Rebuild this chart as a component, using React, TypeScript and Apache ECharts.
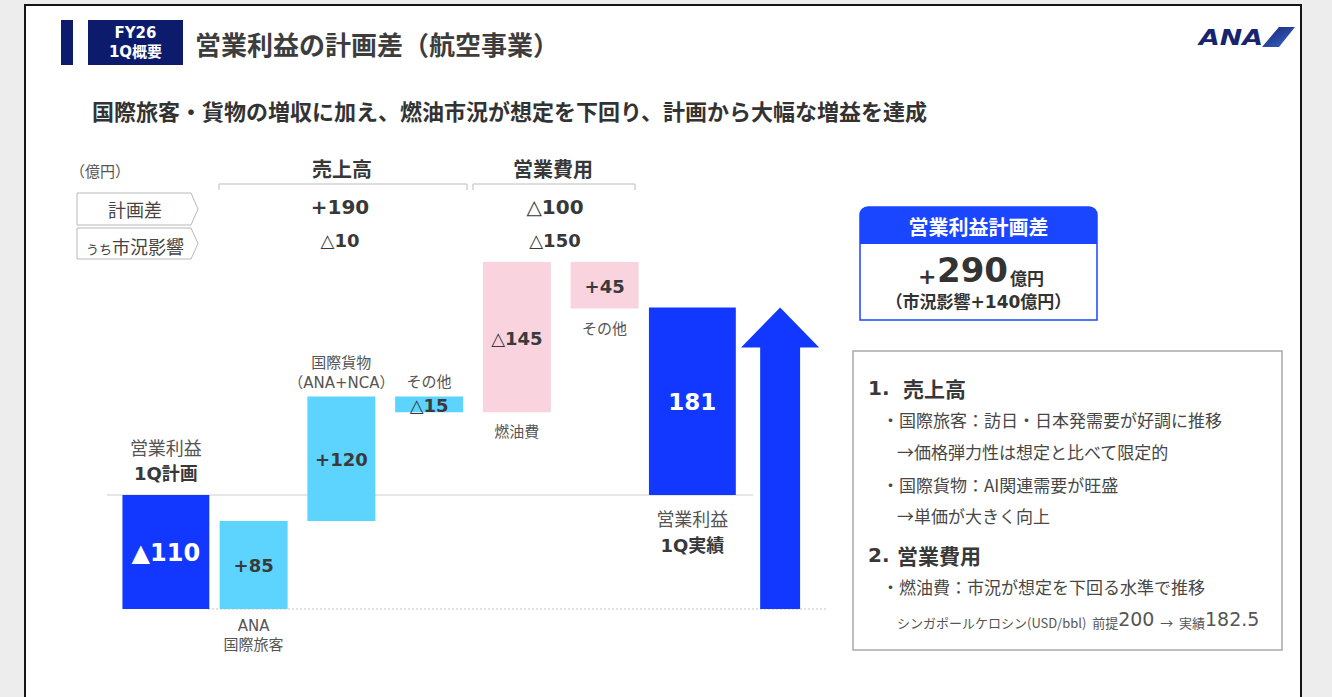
import React, { useEffect, useRef } from 'react';
import * as echarts from 'echarts';

// ---------------- data ----------------
const stepNames = ['営業利益\n1Q計画', 'ANA\n国際旅客', '国際貨物\n（ANA+NCA）', 'その他', '燃油費', 'その他', '営業利益\n1Q実績', ''];
const planProfit = -110; // 営業利益 1Q計画
const revenueDiffs = [85, 120, -15]; // 国際旅客, 国際貨物, その他
const costDiffs = [-145, 45]; // 燃油費, その他 (費用の計画差)
const actualProfit = 181; // 営業利益 1Q実績
const summaryRowNames = ['計画差', 'うち市況影響'];
const marketImpactRevenue = -10;
const marketImpactCost = -150;
const profitDiffTotal = 290;
const profitDiffMarket = 140;
const fuelPlan = 200;
const fuelActual = 182.5;
const axisMax = 250;

// ---------------- styles ----------------
const NAVY = '#0c1b6c';
const DARK = '#1238ff';
const LIGHT = '#5cd4fe';
const PINK = '#f9d4de';
const BOXBLUE = '#1a46ff';
const FJ = '"Noto Sans CJK JP", sans-serif';
const FN = '"DejaVu Sans", "Noto Sans CJK JP", sans-serif';

const fmt = (v: number) => (v >= 0 ? '+' + v : '△' + Math.abs(v));

type Item = { low: number; high: number; label: string; kind: 'total' | 'rev' | 'cost' | 'arrow' };
const items: Item[] = [];
(() => {
  let run = planProfit;
  items.push({ low: 0, high: planProfit, label: '▲' + Math.abs(planProfit), kind: 'total' });
  revenueDiffs.forEach((v) => {
    items.push({ low: run, high: run + v, label: fmt(v), kind: 'rev' });
    run += v;
  });
  costDiffs.forEach((v) => {
    items.push({ low: run, high: run - v, label: fmt(v), kind: 'cost' });
    run -= v;
  });
  items.push({ low: 0, high: actualProfit, label: String(actualProfit), kind: 'total' });
  items.push({ low: planProfit, high: actualProfit, label: '', kind: 'arrow' });
})();

const revenueSum = revenueDiffs.reduce((a, b) => a + b, 0);
const costSum = costDiffs.reduce((a, b) => a + b, 0);

// label layout per bar (presentation only)
const nameLayout: any[] = [
  { side: 'above', gap: 22, lh: 26, big: true },
  { side: 'below', gap: 17, lh: 19 },
  { side: 'above', gap: 14, lh: 20 },
  { side: 'above', gap: 15, lh: 20 },
  { side: 'below', gap: 20, lh: 20 },
  { side: 'below', gap: 20, lh: 20 },
  { side: 'below', gap: 23, lh: 27, big: true },
  null,
];

const T = (text: string, x: number, y: number, font: string, fill: string, align = 'left', va = 'middle', extra: any = {}) => ({
  type: 'text',
  style: { text, x, y, font, fill, align, verticalAlign: va, textAlign: align, textVerticalAlign: va, ...extra },
});

function renderItem(params: any, api: any) {
  const i = params.dataIndex;
  const it = items[i];
  const lowP = api.coord([i, it.low]);
  const highP = api.coord([i, it.high]);
  const band = api.size([1, 0])[0];
  const cx = lowP[0];
  const children: any[] = [];
  if (it.kind === 'arrow') {
    const headW = band * 0.89;
    const shaftW = band * 0.455;
    const headH = 40;
    const top = highP[1];
    const bottom = lowP[1];
    children.push({
      type: 'polygon',
      shape: {
        points: [
          [cx - shaftW / 2, bottom],
          [cx - shaftW / 2, top + headH],
          [cx - headW / 2, top + headH],
          [cx, top],
          [cx + headW / 2, top + headH],
          [cx + shaftW / 2, top + headH],
          [cx + shaftW / 2, bottom],
        ],
      },
      style: { fill: DARK },
    });
    return { type: 'group', children };
  }
  const w = band * (it.kind === 'total' ? 0.99 : 0.775);
  const y1 = Math.min(lowP[1], highP[1]);
  const y2 = Math.max(lowP[1], highP[1]);
  const fill = it.kind === 'total' ? DARK : it.kind === 'rev' ? LIGHT : PINK;
  children.push({ type: 'rect', shape: { x: cx - w / 2, y: y1, width: w, height: y2 - y1 }, style: { fill } });
  const isTotal = it.kind === 'total';
  const vFont = isTotal ? (i === 0 ? `bold 24px ${FN}` : `bold 23px ${FN}`) : `bold 18px ${FN}`;
  children.push(T(it.label, cx, (y1 + y2) / 2 + 1, vFont, isTotal ? '#ffffff' : '#3a3a3a', 'center'));
  const lay = nameLayout[i];
  const lines = stepNames[i].split('\n');
  if (lay) {
    const n = lines.length;
    lines.forEach((ln, k) => {
      let y: number;
      if (lay.side === 'above') y = y1 - lay.gap - (n - 1 - k) * lay.lh;
      else y = y2 + lay.gap + k * lay.lh;
      let font = `15px ${FN}`;
      let col = '#555555';
      if (lay.big) {
        font = k === 0 ? `18px ${FJ}` : `bold 18px ${FN}`;
        col = k === 0 ? '#555555' : '#383838';
      }
      children.push(T(ln, cx, y, font, col, 'center'));
    });
  }
  return { type: 'group', children };
}

function buildGraphics(y0: number, yb: number) {
  const g: any[] = [];
  // slide frame
  g.push({ type: 'rect', shape: { x: 25, y: 5, width: 1276, height: 740 }, style: { fill: '#ffffff', stroke: '#151515', lineWidth: 2 } });
  // header
  g.push({ type: 'rect', shape: { x: 61, y: 20, width: 12, height: 45 }, style: { fill: NAVY } });
  g.push({ type: 'rect', shape: { x: 88, y: 20, width: 95, height: 45 }, style: { fill: NAVY } });
  g.push(T('FY26', 135.5, 33, `bold 15px ${FN}`, '#ffffff', 'center'));
  g.push(T('1Q概要', 135.5, 52, `bold 15px ${FN}`, '#ffffff', 'center'));
  g.push(T('営業利益の計画差（航空事業）', 195, 43, `bold 26px ${FJ}`, '#3d3d3d'));
  // ANA logo
  g.push({
    type: 'text',
    x: 1199,
    y: 37,
    scaleX: 1.22,
    style: { text: 'ANA', x: 0, y: 0, font: `italic bold 22px "DejaVu Sans"`, fill: '#16256e', align: 'left', verticalAlign: 'middle', textAlign: 'left', textVerticalAlign: 'middle' },
  });
  g.push({
    type: 'polygon',
    shape: { points: [[1262, 47], [1279, 27], [1295, 27], [1279, 47]] },
    style: {
      fill: new echarts.graphic.LinearGradient(0, 0, 1, 1, [
        { offset: 0, color: '#16256e' },
        { offset: 1, color: '#3a66d0' },
      ]),
    },
  });
  // subtitle
  g.push(T('国際旅客・貨物の増収に加え、燃油市況が想定を下回り、計画から大幅な増益を達成', 92, 110, `bold 22px ${FJ}`, '#333333'));
  // unit + row labels
  g.push(T('（億円）', 70, 170, `15px ${FJ}`, '#555555'));
  g.push({ type: 'polygon', shape: { points: [[77, 193], [191, 193], [198, 209], [191, 225], [77, 225]] }, style: { fill: '#ffffff', stroke: '#b8b8b8', lineWidth: 1 } });
  g.push({ type: 'polygon', shape: { points: [[77, 228], [191, 228], [198, 243.5], [191, 259], [77, 259]] }, style: { fill: '#ffffff', stroke: '#b8b8b8', lineWidth: 1 } });
  g.push(T(summaryRowNames[0], 135, 209, `18px ${FJ}`, '#444444', 'center'));
  g.push({
    type: 'text',
    style: {
      text: '{a|うち}{b|市況影響}',
      x: 135,
      y: 244,
      align: 'center',
      verticalAlign: 'middle',
      textAlign: 'center',
      textVerticalAlign: 'middle',
      rich: {
        a: { font: `13px ${FJ}`, fill: '#444444', lineHeight: 18, verticalAlign: 'bottom' },
        b: { font: `18px ${FJ}`, fill: '#444444', lineHeight: 22, verticalAlign: 'bottom' },
      },
    },
  });
  // brackets
  g.push({ type: 'polyline', shape: { points: [[219, 190], [219, 184], [467, 184], [467, 190]] }, style: { stroke: '#bdbdbd', lineWidth: 1, fill: null } });
  g.push({ type: 'polyline', shape: { points: [[473, 190], [473, 184], [635, 184], [635, 190]] }, style: { stroke: '#bdbdbd', lineWidth: 1, fill: null } });
  g.push(T('売上高', 342, 168, `bold 20px ${FJ}`, '#383838', 'center'));
  g.push(T('営業費用', 553, 168, `bold 20px ${FJ}`, '#383838', 'center'));
  g.push(T(fmt(revenueSum), 340, 207, `bold 20px ${FN}`, '#383838', 'center'));
  g.push(T(fmt(costSum), 555, 207, `bold 20px ${FN}`, '#383838', 'center'));
  g.push(T(fmt(marketImpactRevenue), 340, 240, `bold 18px ${FN}`, '#383838', 'center'));
  g.push(T(fmt(marketImpactCost), 555, 240, `bold 18px ${FN}`, '#383838', 'center'));
  // chart reference lines
  g.push({ type: 'line', shape: { x1: 107, y1: y0, x2: 753, y2: y0 }, style: { stroke: '#cfcfcf', lineWidth: 1 } });
  g.push({ type: 'line', shape: { x1: 208, y1: yb, x2: 828, y2: yb }, style: { stroke: '#c4c4c4', lineWidth: 1, lineDash: [2, 2] } });
  // right summary box
  g.push({ type: 'rect', shape: { x: 860, y: 207, width: 237, height: 113, r: [8, 8, 0, 0] }, style: { fill: '#ffffff', stroke: BOXBLUE, lineWidth: 1.5 } });
  g.push({ type: 'rect', shape: { x: 860, y: 207, width: 237, height: 37, r: [8, 8, 0, 0] }, style: { fill: BOXBLUE } });
  g.push(T('営業利益計画差', 978.5, 226, `bold 20px ${FJ}`, '#ffffff', 'center'));
  g.push(T('+', 918, 276, `bold 22px ${FN}`, '#333333'));
  g.push(T(String(profitDiffTotal), 937, 270, `bold 34px ${FN}`, '#333333'));
  g.push(T('億円', 1010, 277, `bold 17px ${FJ}`, '#333333'));
  g.push(T(`（市況影響+${profitDiffMarket}億円）`, 978.5, 302, `bold 17px ${FN}`, '#333333', 'center'));
  // notes box
  g.push({ type: 'rect', shape: { x: 853, y: 351, width: 429, height: 299 }, style: { fill: '#ffffff', stroke: '#a9a9a9', lineWidth: 1.5 } });
  g.push(T('1.', 868, 388, `bold 20px ${FN}`, '#383838'));
  g.push(T('売上高', 903, 388, `bold 21px ${FJ}`, '#383838'));
  g.push(T('・国際旅客：訪日・日本発需要が好調に推移', 882, 419, `17px ${FJ}`, '#474747'));
  g.push(T('→価格弾力性は想定と比べて限定的', 897, 451, `17px ${FJ}`, '#474747'));
  g.push(T('・国際貨物：AI関連需要が旺盛', 882, 484, `17px ${FJ}`, '#474747'));
  g.push(T('→単価が大きく向上', 897, 515, `17px ${FJ}`, '#474747'));
  g.push(T('2.', 868, 555, `bold 20px ${FN}`, '#383838'));
  g.push(T('営業費用', 897, 555, `bold 21px ${FJ}`, '#383838'));
  g.push(T('・燃油費：市況が想定を下回る水準で推移', 882, 586, `17px ${FJ}`, '#474747'));
  g.push({
    type: 'text',
    style: {
      text: `{s|シンガポールケロシン(USD/bbl)  前提}{n|${fuelPlan}}{s|  →  実績}{n|${fuelActual}}`,
      x: 897,
      y: 617,
      align: 'left',
      verticalAlign: 'middle',
      textAlign: 'left',
      textVerticalAlign: 'middle',
      rich: {
        s: { font: `13px ${FJ}`, fill: '#555555', lineHeight: 16, verticalAlign: 'bottom' },
        n: { font: `19px "DejaVu Sans", sans-serif`, fill: '#555555', lineHeight: 23, verticalAlign: 'bottom' },
      },
    },
  });
  return g;
}

export default function App() {
  const ref = useRef<HTMLDivElement>(null);
  useEffect(() => {
    const chart = echarts.init(ref.current!, undefined, { renderer: 'svg' });
    chart.setOption({
      animation: false,
      backgroundColor: '#ededed',
      grid: { left: 122, top: 236, width: 702, height: 373 },
      xAxis: { type: 'category', data: stepNames, show: false },
      yAxis: { type: 'value', min: planProfit, max: axisMax, show: false },
      series: [
        {
          type: 'custom',
          renderItem,
          data: items.map((it, i) => [i, it.low, it.high]),
          encode: { x: 0, y: [1, 2] },
          z: 5,
        },
      ],
    });
    const y0 = chart.convertToPixel({ yAxisIndex: 0 }, 0) as number;
    const yb = chart.convertToPixel({ yAxisIndex: 0 }, planProfit) as number;
    chart.setOption({ graphic: { elements: buildGraphics(y0, yb) } });
    return () => chart.dispose();
  }, []);
  return <div ref={ref} style={{ position: 'fixed', left: 0, top: 0, width: 1332, height: 697 }} />;
}
